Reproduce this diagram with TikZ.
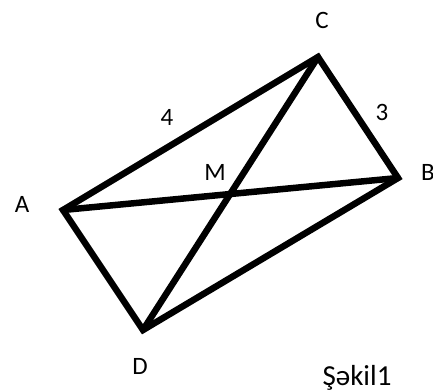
\documentclass[tikz,border=0pt]{standalone}
\usepackage{fontspec}
\setmainfont{Carlito}
\begin{document}
\begin{tikzpicture}[x=1pt,y=-1pt,
  edge/.style={line width=6.5pt,line join=miter,line cap=round},
  lbl/.style={font=\fontsize{25}{27}\selectfont,inner sep=0pt},
  pt/.style={inner sep=0pt,minimum size=0pt}]
\useasboundingbox (0,0) rectangle (433,390);
\coordinate (A) at (63,210);
\coordinate (C) at (318,57);
\coordinate (B) at (398,178);
\coordinate (D) at (143,330);
\draw[edge] (A) -- (C) -- (B) -- (D) -- cycle;
\draw[edge] (A) -- (B);
\draw[edge] (C) -- (D);
\node[lbl] (lC) at (322,20) {C};
\node[lbl] (lA) at (22,204) {A};
\node[lbl] (lB) at (428,172) {B};
\node[lbl] (lD) at (140,366) {D};
\node[lbl] (lM) at (215,172) {M};
\node[lbl] (l4) at (167,117) {4};
\node[lbl] (l3) at (382,112) {3};
\node[lbl,font=\fontsize{29}{31}\selectfont] (cap) at (357,378) {Şəkil1};
\end{tikzpicture}
\end{document}
